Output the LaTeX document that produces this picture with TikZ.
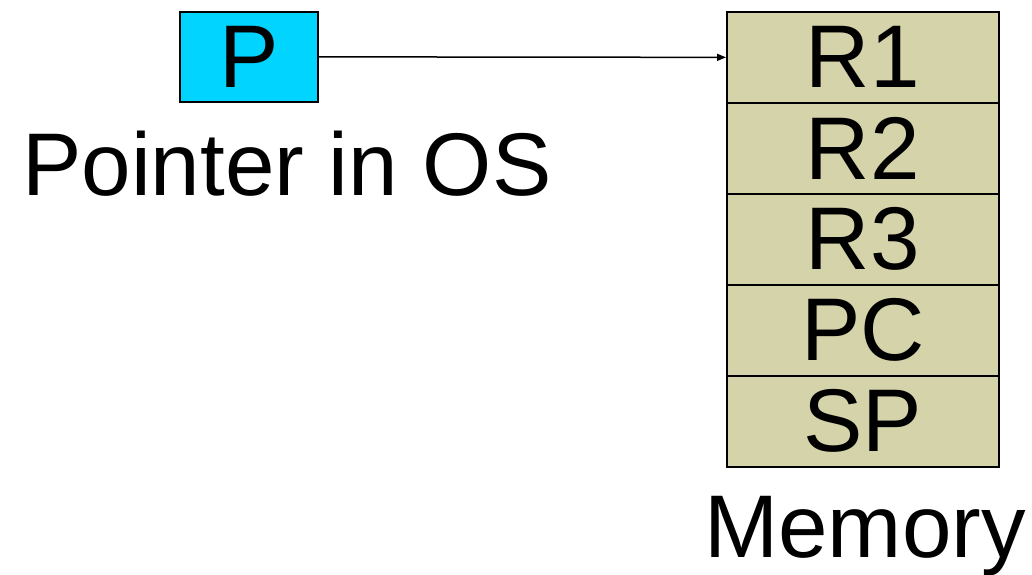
\documentclass[tikz,border=0pt]{standalone}
\usepackage{fontspec}
\setmainfont{Liberation Sans}
\usetikzlibrary{arrows.meta}
\definecolor{ptrcyan}{HTML}{00D4FF}
\definecolor{memtan}{HTML}{D5D3A9}
\begin{document}
\begin{tikzpicture}[x=1pt,y=-1pt,
  bigtext/.style={font=\fontsize{89}{89}\selectfont},
  cell/.style={draw=black,line width=1.7pt,fill=memtan,minimum width=272pt,
    minimum height=91pt,inner sep=0pt,anchor=north west,bigtext},
  ptrbox/.style={draw=black,line width=1.7pt,fill=ptrcyan,minimum width=138pt,
    minimum height=90pt,inner sep=0pt,anchor=north west,bigtext},
  label/.style={inner sep=0pt,anchor=base west,bigtext}]
  \useasboundingbox (0,0) rectangle (1032,574);
  % pointer held by the OS
  \node[ptrbox] (p) at (179,11) {P};
  \node[label] (plabel) at (22,195) {Pointer in OS};
  % saved register block in memory
  \node[cell] (r1) at (726,11) {R1};
  \node[cell] (r2) at (726,102) {R2};
  \node[cell] (r3) at (726,193) {R3};
  \node[cell] (pc) at (726,284) {PC};
  \node[cell] (sp) at (726,375) {SP};
  \node[inner sep=0pt,anchor=base,bigtext] (mlabel) at (865,557) {Memory};
  % pointer to the block
  \draw[line width=1.5pt,-{Triangle[length=9pt,width=7pt]}] (p.east) -- (r1.west);
\end{tikzpicture}
\end{document}
